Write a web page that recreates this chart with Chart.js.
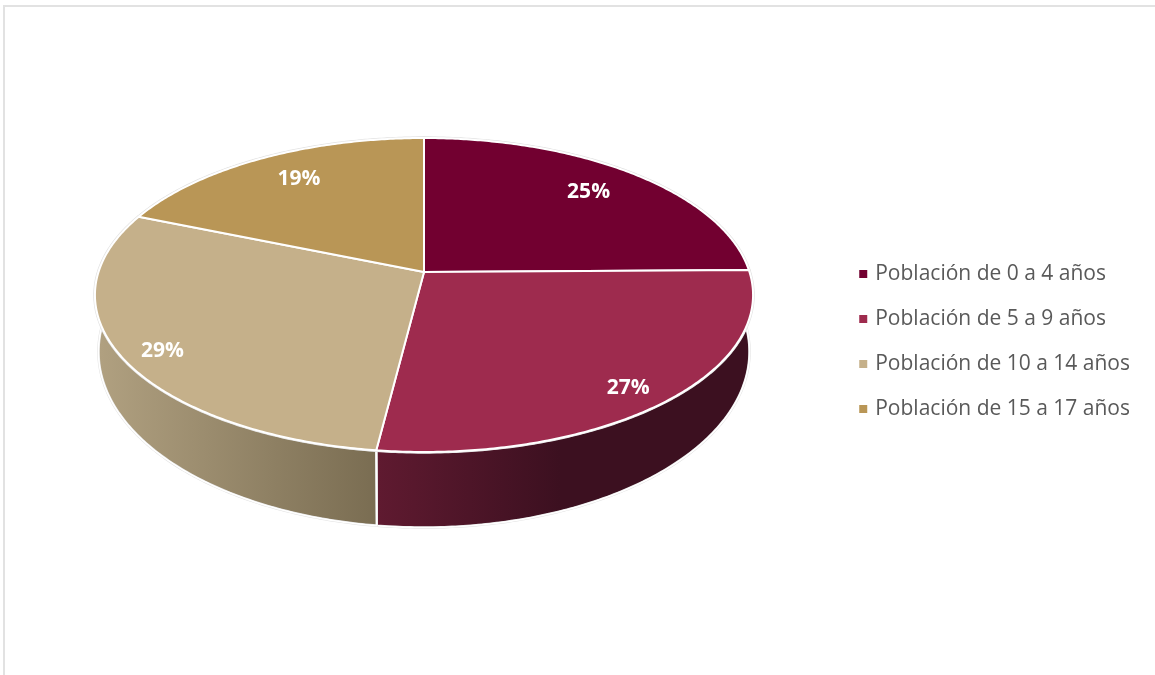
<!DOCTYPE html>
<html>
<head>
<meta charset="utf-8">
<style>
  body { margin: 0; background: #fff; }
  #frame { position: absolute; left: 3px; top: 5px; right: 0; bottom: 0; border-left: 2px solid #e2e2e2; border-top: 2px solid #e2e2e2; }
  #chart { position: absolute; left: 0; top: 0; }
</style>
<script src="https://cdn.jsdelivr.net/npm/chart.js@4"></script>
</head>
<body>
<div id="frame"></div>
<canvas id="chart" width="1155" height="675"></canvas>
<script>
var categories = ["Población de 0 a 4 años", "Población de 5 a 9 años", "Población de 10 a 14 años", "Población de 15 a 17 años"];
var shares = [24.8, 27.2, 29.2, 18.8];
var sliceColors = ["#720030", "#9e2b4e", "#c5b08a", "#b99656"];

// side wall shading, left to right
var wallShades = [
  ["#720030", "#720030"],
  ["#5f1a30", "#3c1020"],
  ["#b0a080", "#7a6d52"],
  ["#b99656", "#b99656"]
];

// where the % labels sit inside each slice (fraction of radius, turn in degrees)
var labelRadius = [0.79, 0.88, 0.886, 0.793];
var labelTurn = [-0.74, 1.8, -2.2, 1.7];

// the tilted disc: perspective view of a unit circle, top rim and bottom rim
var disc = { x: 424, y: 272, a: 325.5, b: 153.6, k: -0.1465 };
var base = { x: 424, y: 326, a: 322, b: 172, k: -0.1465 };

function project(angle, r, rim) {
  var u = Math.cos(angle) * r;
  var v = Math.sin(angle) * r;
  var d = 1 + rim.k * v;
  return { x: rim.x + rim.a * u / d, y: rim.y + rim.b * v / d };
}

function traceRim(ctx, from, to, rim) {
  var steps = Math.max(2, Math.ceil(Math.abs(to - from) / 0.01));
  for (var i = 0; i <= steps; i++) {
    var p = project(from + (to - from) * i / steps, 1, rim);
    ctx.lineTo(p.x, p.y);
  }
}

var tiltedPie = {
  id: "tiltedPie",
  beforeDatasetsDraw: function (chart) {
    var ctx = chart.ctx;
    var arcs = chart.getDatasetMeta(0).data;
    ctx.save();
    ctx.lineJoin = "round";

    // side walls first
    arcs.forEach(function (arc, i) {
      var gradient = ctx.createLinearGradient(i === 1 ? 378 : 100, 0, i === 1 ? 560 : 375, 0);
      gradient.addColorStop(0, wallShades[i][0]);
      gradient.addColorStop(1, wallShades[i][1]);
      ctx.beginPath();
      traceRim(ctx, arc.startAngle, arc.endAngle, disc);
      traceRim(ctx, arc.endAngle, arc.startAngle, base);
      ctx.closePath();
      ctx.fillStyle = gradient;
      ctx.fill();
      ctx.strokeStyle = "#e0e0e0";
      ctx.lineWidth = 2.5;
      ctx.stroke();
      ctx.strokeStyle = "#fff";
      ctx.lineWidth = 1.6;
      ctx.stroke();
    });

    // top surface
    arcs.forEach(function (arc) {
      ctx.beginPath();
      ctx.moveTo(disc.x, disc.y);
      traceRim(ctx, arc.startAngle, arc.endAngle, disc);
      ctx.closePath();
      ctx.strokeStyle = "#e4e4e4";
      ctx.lineWidth = 3.4;
      ctx.stroke();
    });
    arcs.forEach(function (arc, i) {
      ctx.beginPath();
      ctx.moveTo(disc.x, disc.y);
      traceRim(ctx, arc.startAngle, arc.endAngle, disc);
      ctx.closePath();
      ctx.fillStyle = sliceColors[i];
      ctx.fill();
      ctx.strokeStyle = "#fff";
      ctx.lineWidth = 2;
      ctx.stroke();
    });

    // labels
    ctx.fillStyle = "#fff";
    ctx.font = "bold 21px 'Open Sans'";
    ctx.textAlign = "center";
    ctx.textBaseline = "middle";
    arcs.forEach(function (arc, i) {
      var mid = (arc.startAngle + arc.endAngle) / 2 + labelTurn[i] * Math.PI / 180;
      var p = project(mid, labelRadius[i], disc);
      ctx.fillText(Math.round(shares[i]) + "%", p.x, p.y + 1);
    });
    ctx.restore();
    return false;
  }
};

new Chart(document.getElementById("chart"), {
  type: "pie",
  data: {
    labels: categories,
    datasets: [{ data: shares, backgroundColor: sliceColors, borderWidth: 0 }]
  },
  options: {
    responsive: false,
    animation: false,
    layout: { padding: { top: 8, right: 15, bottom: 0, left: 0 } },
    plugins: {
      tooltip: { enabled: false },
      legend: {
        position: "right",
        labels: {
          usePointStyle: true,
          pointStyle: "rect",
          boxWidth: 3,
          boxHeight: 8,
          padding: 24,
          color: "#595959",
          font: { family: "'Open Sans'", size: 21 }
        }
      }
    }
  },
  plugins: [tiltedPie]
});
</script>
</body>
</html>
